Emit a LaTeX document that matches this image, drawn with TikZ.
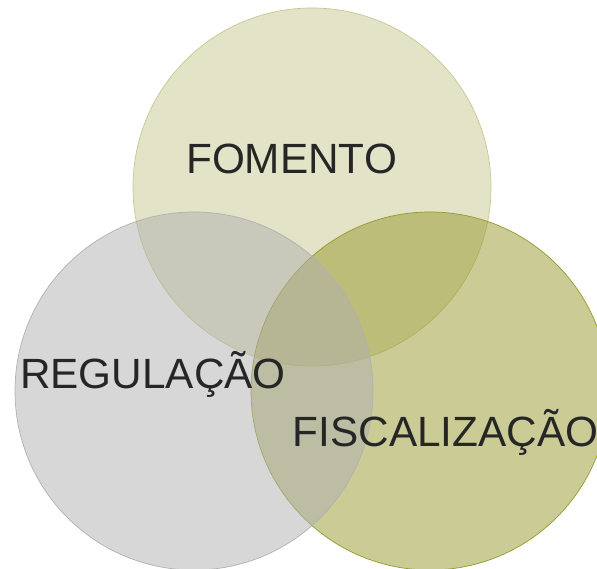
\documentclass[tikz,border=0pt]{standalone}
\usepackage{fontspec}
\setmainfont{Liberation Sans}
\definecolor{ctop}{HTML}{C7C991}
\definecolor{cleft}{HTML}{B1B1B1}
\definecolor{cright}{HTML}{97992D}
\definecolor{txt}{HTML}{262626}
\begin{document}
\begin{tikzpicture}[x=1pt,y=-1pt,
  venn/.style={fill=#1,draw=#1,fill opacity=0.5,draw opacity=1,line width=0.7pt},
  lbl/.style={anchor=base west,inner sep=0pt,text=txt,font=\fontsize{42.3}{50}\selectfont}]
\useasboundingbox (0,0) rectangle (597,569);
\fill[white] (0,0) rectangle (597,569);
\draw[venn=ctop] (312,187) circle[radius=179pt];
\draw[venn=cright] (430,391) circle[radius=179pt];
\draw[venn=cleft] (194,391) circle[radius=179pt];
\node[lbl] (fom) at (186,174) {FOMENTO};
\node[lbl] (reg) at (20,388) {REGULAÇÃO};
\node[lbl] (fis) at (292.5,446) {FISCALIZAÇÃO};
\end{tikzpicture}
\end{document}
